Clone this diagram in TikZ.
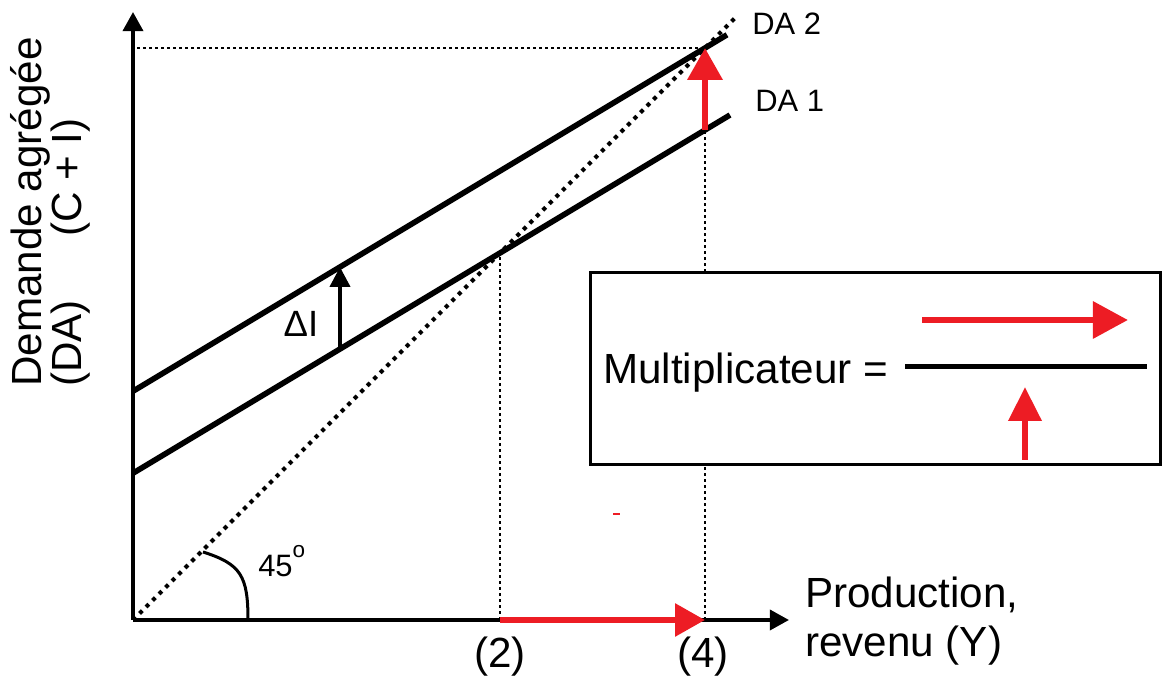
\documentclass[tikz,border=0pt]{standalone}
\usepackage{fontspec}
\setmainfont{Liberation Sans}
\usetikzlibrary{arrows.meta,positioning,calc}
\definecolor{shiftRed}{HTML}{ED1C24}

\begin{document}
\begin{tikzpicture}[
    axis/.style={line width=0.1cm, -{Triangle[length=0.48cm,width=0.5cm]}},
    demand/.style={line width=0.14cm},
    guide/.style={line width=0.05cm, dash pattern=on 0.08cm off 0.07cm},
    diagonal/.style={line width=0.1cm, dash pattern=on 0.1cm off 0.13cm},
    redarrow/.style={draw=shiftRed, line width=0.17cm, -{Triangle[length=0.8cm,width=0.85cm]}},
    bigtext/.style={font=\fontsize{30}{36}\selectfont, inner sep=0pt},
    smalltext/.style={font=\fontsize{22}{26}\selectfont, inner sep=0pt},
  ]
  \useasboundingbox (-3.325,-1.425) rectangle (25.8,15.5);

  % Points of the graph
  \coordinate (O)     at (0,0);
  \coordinate (ytop)  at (0,15.2);
  \coordinate (xend)  at (16.4,0);
  \coordinate (d45)   at (15.05,15.05);
  \coordinate (da1s)  at (0,3.67);
  \coordinate (da1e)  at (14.925,12.625);
  \coordinate (da2s)  at (0,5.72);
  \coordinate (da2e)  at (14.85,14.63);
  \coordinate (eq1)   at (9.175,9.175);
  \coordinate (eq2)   at (14.3,14.3);
  \coordinate (y2)    at (9.175,0);
  \coordinate (y4)    at (14.3,0);
  \coordinate (top1)  at (14.3,12.25);
  \coordinate (yeq2)  at (0.1,14.3);
  \coordinate (di1)   at (5.175,6.775);
  \coordinate (di2)   at (5.175,8.825);

  % Guide lines
  \draw[diagonal] (O) -- (d45);
  \draw[guide] (yeq2) -- (eq2);
  \draw[guide] (y2) -- (eq1);
  \draw[guide] (y4) -- (top1);

  % Axes
  \draw[axis] (O) -- (ytop);
  \draw[axis] (O) -- (xend);

  % Demand lines
  \draw[demand] (da1s) -- (da1e);
  \draw[demand] (da2s) -- (da2e);
  \node[smalltext, anchor=base west] (lab1) at (15.55,12.7) {DA 1};
  \node[smalltext, anchor=base west] (lab2) at (15.475,14.625) {DA 2};

  % Shift in investment
  \draw[line width=0.1cm, -{Triangle[length=0.5cm,width=0.5cm]}] (di1) -- (di2);
  \node[font=\fontsize{26}{30}\selectfont, inner sep=0pt] (dI) at (4.2,7.41) {ΔI};
  \draw[redarrow] (top1) -- (eq2);
  \draw[redarrow, line width=0.15cm, -{Triangle[length=0.75cm,width=0.8cm]}] (y2) -- (y4);

  % 45 degree mark
  \coordinate (a1) at (1.75,1.7);
  \coordinate (a2) at (2.875,0);
  \draw[line width=0.075cm] (a1) .. controls (2.7,1.4) and (2.875,1.1) .. (a2);
  \node[smalltext, anchor=base west] (deg) at (3.125,1.075)
    {45\raisebox{0.62em}{\fontsize{16}{16}\selectfont o}};

  % Axis labels
  \node[bigtext, anchor=base] (q2) at (9.175,-1.2) {(2)};
  \node[bigtext, anchor=base] (q4) at (14.25,-1.2) {(4)};
  \node[bigtext, anchor=base west] (xlab1) at (16.8,0.3) {Production,};
  \node[bigtext, anchor=base west] (xlab2) at (16.8,-0.925) {revenu (Y)};
  \node[bigtext, rotate=90, anchor=base west] (ylab1) at (-2.275,5.825) {Demande agrégée};
  \node[bigtext, rotate=90, anchor=base west] (ylab2) at (-1.275,5.825) {(DA)\hspace{1.5em}(C + I)};

  % Multiplier box
  \draw[line width=0.075cm, fill=white] (11.425,3.875) rectangle (25.675,8.675);
  \node[bigtext, anchor=base west] (mult) at (11.75,5.9) {Multiplicateur =};
  \coordinate (fracl) at (19.3,6.325);
  \coordinate (fracr) at (25.35,6.325);
  \draw[line width=0.125cm] (fracl) -- (fracr);
  \coordinate (num1) at (19.725,7.5);
  \coordinate (num2) at (24.875,7.5);
  \draw[redarrow, -{Triangle[length=0.88cm,width=0.9cm]}] (num1) -- (num2);
  \coordinate (den1) at (22.3,4.0);
  \coordinate (den2) at (22.3,5.825);
  \draw[redarrow, -{Triangle[length=0.85cm,width=0.8cm]}] (den1) -- (den2);

  % stray mark
  \draw[shiftRed, line width=0.03cm] (12.0,2.65) -- (12.175,2.65);

\end{tikzpicture}
\end{document}
